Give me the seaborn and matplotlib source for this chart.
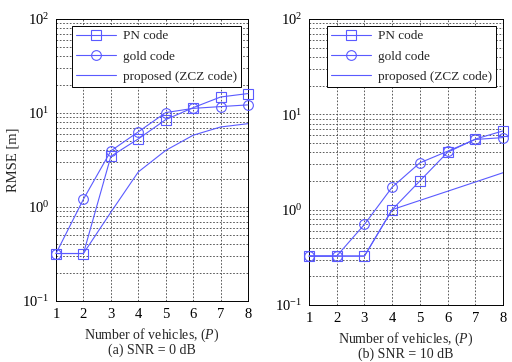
import matplotlib
matplotlib.use("Agg")
import matplotlib.pyplot as plt
import seaborn as sns
import numpy as np
from matplotlib.ticker import LogLocator, LogFormatterMathtext, NullFormatter

# ---- data ----
vehicles = [1, 2, 3, 4, 5, 6, 7, 8]

pn_0db = [0.32, 0.32, 3.46, 5.3, 8.5, 11.4, 14.8, 16.1]
gold_0db = [0.32, 1.21, 3.95, 6.3, 10.1, 11.2, 11.7, 12.2]
zcz_0db = [0.32, 0.32, 0.88, 2.36, 4.0, 5.8, 7.1, 7.7]

pn_10db = [0.326, 0.326, 0.326, 1.0, 2.0, 4.0, 5.5, 6.7]
gold_10db = [0.326, 0.326, 0.70, 1.72, 3.1, 4.1, 5.45, 5.7]
zcz_10db = [0.326, 0.326, 0.326, 1.0, 1.25, 1.56, 1.95, 2.44]

labels = ["PN code", "gold code", "proposed (ZCZ code)"]
xlabel = "Number of vehicles, ($\\it{P}$)"
subtitles = ["(a) SNR = 0 dB", "(b) SNR = 10 dB"]
ylabel = "RMSE [m]"

sns.set_style("white")
plt.rcParams["font.family"] = ["Liberation Serif", "DejaVu Serif"]
plt.rcParams["mathtext.fontset"] = "custom"
plt.rcParams["mathtext.rm"] = "Liberation Serif"
plt.rcParams["mathtext.it"] = "Liberation Serif:italic"
plt.rcParams["mathtext.bf"] = "Liberation Serif:bold"

color = "#5a5aff"

fig = plt.figure(figsize=(5.12, 3.62), dpi=100)
ax1 = fig.add_axes([56 / 512, 61 / 362, 192 / 512, 282 / 362])
ax2 = fig.add_axes([309 / 512, 57 / 362, 194 / 512, 286 / 362])

datasets = [(ax1, pn_0db, gold_0db, zcz_0db, subtitles[0]),
            (ax2, pn_10db, gold_10db, zcz_10db, subtitles[1])]

for ax, pn, gold, zcz, sub in datasets:
    sns.lineplot(x=vehicles, y=pn, ax=ax, color=color, lw=0.8, marker="s",
                 markersize=7.5, markerfacecolor="none", markeredgecolor=color,
                 markeredgewidth=0.8, label=labels[0], clip_on=False, zorder=3)
    sns.lineplot(x=vehicles, y=gold, ax=ax, color=color, lw=0.8, marker="o",
                 markersize=7, markerfacecolor="none", markeredgecolor=color,
                 markeredgewidth=0.8, label=labels[1], clip_on=False, zorder=3)
    sns.lineplot(x=vehicles, y=zcz, ax=ax, color=color, lw=0.8, label=labels[2],
                 zorder=3)
    ax.set_yscale("log")
    ax.set_ylim(0.1, 100)
    ax.set_xlim(1, 8)
    ax.set_xticks(vehicles)
    ax.yaxis.set_major_locator(LogLocator(base=10, numticks=10))
    ax.yaxis.set_major_formatter(LogFormatterMathtext())
    ax.yaxis.set_minor_locator(LogLocator(base=10, subs=np.arange(2, 10), numticks=20))
    ax.yaxis.set_minor_formatter(NullFormatter())
    ax.grid(True, which="both", axis="y", color="0.25", ls=(0, (2, 2)), lw=0.6)
    ax.grid(True, which="major", axis="x", color="0.25", ls=(0, (2, 2)), lw=0.6)
    ax.tick_params(axis="both", which="major", direction="in", length=3,
                   labelsize=10.5, width=0.6, colors="black", pad=5)
    ax.tick_params(axis="y", which="minor", direction="in", length=1.5, width=0.5)
    for s in ax.spines.values():
        s.set_color("black")
        s.set_linewidth(0.7)
    ax.set_xlabel(xlabel + "\n" + sub, fontsize=10, labelpad=4, linespacing=1.0)
    leg = ax.legend(loc="upper right", fontsize=9.5, frameon=True, fancybox=False,
                    framealpha=1, edgecolor="black", handlelength=3.0,
                    borderaxespad=0.5, borderpad=0.35, labelspacing=0.6,
                    handletextpad=0.5)
    leg.get_frame().set_linewidth(0.7)

ax1.set_ylabel(ylabel, fontsize=10.5, labelpad=2)
ax2.set_ylabel("")

fig.savefig("out.png", dpi=100)
